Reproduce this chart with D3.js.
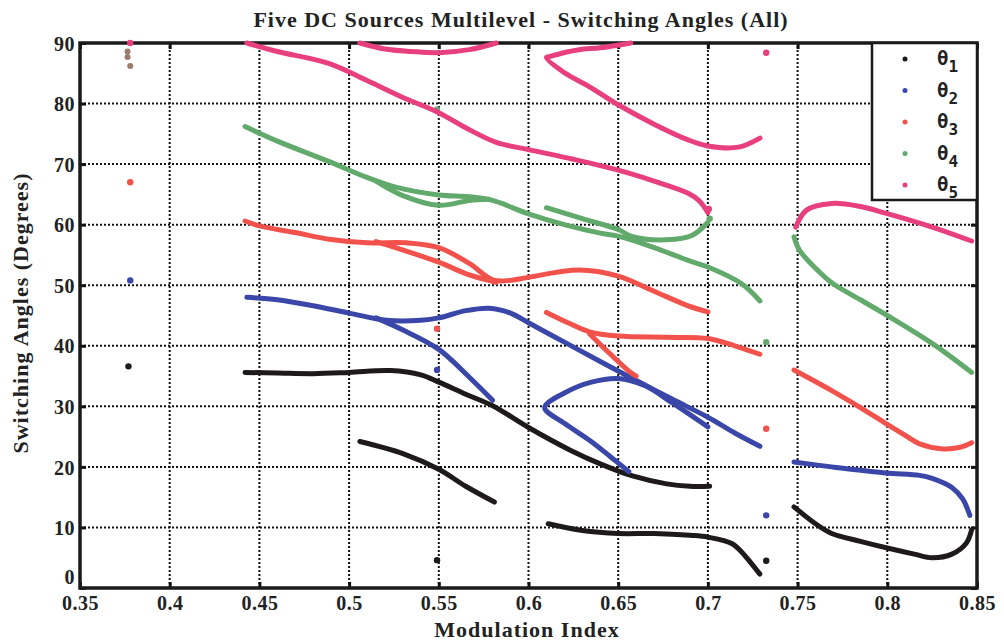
<!DOCTYPE html>
<html>
<head>
<meta charset="utf-8">
<script src="https://cdn.jsdelivr.net/npm/d3@7"></script>
<style>
  body { margin: 0; background: #fff; }
  svg { display: block; }
  .tick-lbl { font-family: "Liberation Serif", "DejaVu Serif", serif; font-weight: bold; font-size: 20px; letter-spacing: 0.5px; fill: #222; }
  .ttl { font-family: "Liberation Serif", "DejaVu Serif", serif; font-weight: bold; font-size: 22px; letter-spacing: 1px; fill: #222; }
</style>
</head>
<body>
<div id="chart"></div>
<script>
// modulation index ticks and angle ticks
var xTicks = [0.35, 0.4, 0.45, 0.5, 0.55, 0.6, 0.65, 0.7, 0.75, 0.8, 0.85];
var yTicks = [0, 10, 20, 30, 40, 50, 60, 70, 80, 90];
var seriesNames = ['1', '2', '3', '4', '5'];

// each angle: list of solution branches [modIndex, degrees]
var theta1Curves = [
  [[0.442,35.6],[0.46,35.5],[0.48,35.4],[0.50,35.6],[0.523,35.9],[0.54,35.2],[0.55,34.0],[0.565,32.0],[0.58,30.1],[0.60,26.5],[0.623,22.8],[0.64,20.5],[0.658,18.5],[0.677,17.2],[0.69,16.8],[0.701,16.8]],
  [[0.506,24.2],[0.53,22.2],[0.55,19.6],[0.565,16.8],[0.581,14.2]],
  [[0.611,10.6],[0.63,9.5],[0.65,9.0],[0.67,9.0],[0.69,8.7],[0.70,8.4],[0.7136,7.3],[0.721,5.2],[0.726,3.4],[0.729,2.3]],
  [[0.748,13.4],[0.76,10.6],[0.769,9.0],[0.785,7.7],[0.80,6.6],[0.815,5.6],[0.825,5.0],[0.836,5.6],[0.844,7.4],[0.847,9.6]]
];
var theta1Dots = [[0.377,36.6],[0.549,4.6],[0.7325,4.5]];

var theta2Curves = [
  [[0.443,48.0],[0.46,47.6],[0.48,46.6],[0.50,45.4],[0.521,44.2],[0.54,44.2],[0.55,44.6],[0.565,45.8],[0.578,46.2],[0.59,45.4],[0.60,43.8],[0.62,40.6],[0.64,37.4],[0.658,34.6],[0.68,31.2],[0.70,28.2],[0.715,25.6],[0.729,23.4]],
  [[0.515,44.6],[0.53,42.6],[0.55,39.4],[0.567,34.8],[0.58,31.0]],
  [[0.70,26.6],[0.68,30.6],[0.665,33.4],[0.65,34.6],[0.635,34.0],[0.62,32.2],[0.609,29.8],[0.62,27.2],[0.634,24.4],[0.646,21.6],[0.656,19.2]],
  [[0.748,20.8],[0.769,20.0],[0.799,19.0],[0.818,18.6],[0.825,18.1],[0.836,16.6],[0.842,14.7],[0.846,12.0]]
];
var theta2Dots = [[0.378,50.8],[0.549,36.0],[0.7325,12.0]];

var theta3Curves = [
  [[0.442,60.6],[0.45,59.8],[0.47,58.7],[0.489,57.6],[0.51,57.0],[0.532,57.0],[0.55,56.2],[0.567,53.6],[0.58,50.9],[0.59,50.8],[0.60,51.3],[0.628,52.5],[0.65,51.5],[0.67,49.0],[0.689,46.6],[0.70,45.6]],
  [[0.515,57.2],[0.526,56.2],[0.55,53.8],[0.567,51.7],[0.582,50.5]],
  [[0.61,45.5],[0.622,43.8],[0.634,42.3],[0.65,41.6],[0.677,41.4],[0.70,41.2],[0.715,40.0],[0.729,38.6]],
  [[0.634,42.0],[0.645,38.8],[0.656,35.8],[0.66,35.0]],
  [[0.748,36.0],[0.769,32.6],[0.785,29.8],[0.799,27.2],[0.81,25.2],[0.818,23.8],[0.83,23.0],[0.84,23.2],[0.847,24.0]]
];
var theta3Dots = [[0.378,67.0],[0.549,42.8],[0.7325,26.3]];

var theta4Curves = [
  [[0.442,76.2],[0.46,73.8],[0.489,70.4],[0.51,67.8],[0.526,66.2],[0.55,64.9],[0.567,64.6],[0.58,64.0],[0.60,61.8],[0.62,60.0],[0.64,58.6],[0.65,58.1],[0.67,56.2],[0.689,54.1],[0.70,53.0],[0.719,50.2],[0.729,47.4]],
  [[0.515,67.2],[0.53,64.8],[0.55,63.2],[0.567,64.0],[0.578,64.2]],
  [[0.61,62.8],[0.63,61.0],[0.65,59.2],[0.658,58.0],[0.677,57.5],[0.691,58.2],[0.70,60.4]],
  [[0.748,58.0],[0.751,55.8],[0.76,52.8],[0.769,50.4],[0.785,47.6],[0.80,45.0],[0.825,40.4],[0.847,35.6]]
];
var theta4Dots = [[0.549,79.0],[0.7325,40.6],[0.701,61.0]];

var theta5Curves = [
  [[0.443,90],[0.46,88.6],[0.489,86.6],[0.51,83.8],[0.53,81.0],[0.55,78.5],[0.565,76.0],[0.582,73.6],[0.60,72.4],[0.625,70.8],[0.65,69.0],[0.67,67.2],[0.689,65.2],[0.695,64.0],[0.70,62.0]],
  [[0.506,90],[0.52,89.0],[0.535,88.6],[0.55,88.4],[0.567,88.9],[0.582,90]],
  [[0.657,90],[0.64,89.2],[0.628,88.9],[0.612,87.8],[0.61,87.6],[0.619,85.3],[0.635,82.6],[0.65,79.8],[0.67,76.6],[0.689,74.0],[0.70,73.0],[0.717,72.8],[0.729,74.3]],
  [[0.749,59.6],[0.755,62.4],[0.769,63.5],[0.785,63.0],[0.799,61.9],[0.825,59.6],[0.847,57.3]]
];
var theta5Dots = [[0.378,90],[0.7325,88.4],[0.7005,62.6]];

// stray points near m=0.377 plotted in a brownish colour
var strayDots = [[0.3765,88.6],[0.3765,87.7],[0.378,86.2]];

var colors = ['#1f1a1a', '#3a47a8', '#f2524c', '#62a96c', '#e8407f'];
var allCurves = [theta1Curves, theta2Curves, theta3Curves, theta4Curves, theta5Curves];
var allDots = [theta1Dots, theta2Dots, theta3Dots, theta4Dots, theta5Dots];

var width = 1004, height = 643;
var margin = { left: 80, right: 27, top: 43, bottom: 55 };

var svg = d3.select('#chart').append('svg')
  .attr('width', width)
  .attr('height', height);

var x = d3.scaleLinear().domain([0.35, 0.85]).range([margin.left, width - margin.right]);
var y = d3.scaleLinear().domain([0, 90]).range([height - margin.bottom, margin.top]);

// dotted grid
var grid = svg.append('g');
grid.selectAll('.gx').data(xTicks.slice(1, -1)).enter().append('line')
  .attr('x1', function(d) { return x(d); }).attr('x2', function(d) { return x(d); })
  .attr('y1', y(0)).attr('y2', y(90))
  .attr('stroke', '#111').attr('stroke-width', 2).attr('stroke-dasharray', '2,2');
grid.selectAll('.gy').data(yTicks.slice(1, -1)).enter().append('line')
  .attr('y1', function(d) { return y(d); }).attr('y2', function(d) { return y(d); })
  .attr('x1', x(0.35)).attr('x2', x(0.85))
  .attr('stroke', '#111').attr('stroke-width', 2).attr('stroke-dasharray', '2,2');

// axes with inward ticks
var xAxis = svg.append('g')
  .attr('transform', 'translate(0,' + y(0) + ')')
  .call(d3.axisBottom(x).tickValues(xTicks).tickSize(-6).tickPadding(8).tickFormat(function(d) { return d3.format('')(+d.toFixed(2)); }));
var xAxisTop = svg.append('g')
  .attr('transform', 'translate(0,' + y(90) + ')')
  .call(d3.axisTop(x).tickValues(xTicks).tickSize(-6).tickFormat(''));
var yAxis = svg.append('g')
  .attr('transform', 'translate(' + x(0.35) + ',0)')
  .call(d3.axisLeft(y).tickValues(yTicks).tickSize(-6).tickPadding(5));
var yAxisRight = svg.append('g')
  .attr('transform', 'translate(' + x(0.85) + ',0)')
  .call(d3.axisRight(y).tickValues(yTicks).tickSize(-6).tickFormat(''));

[xAxis, xAxisTop, yAxis, yAxisRight].forEach(function(g) {
  g.select('.domain').remove();
  g.selectAll('.tick line').attr('stroke', '#111').attr('stroke-width', 3);
  g.selectAll('.tick text').attr('class', 'tick-lbl').attr('fill', '#222');
});
yAxis.selectAll('.tick text').attr('dy', function(d) { return d === 0 ? '-0.22em' : '0.36em'; });

// frame
svg.append('rect')
  .attr('x', x(0.35)).attr('y', y(90))
  .attr('width', x(0.85) - x(0.35)).attr('height', y(0) - y(90))
  .attr('fill', 'none').attr('stroke', '#1a1a1a').attr('stroke-width', 3.5);

var plot = svg.append('g');
var line = d3.line()
  .x(function(d) { return x(d[0]); })
  .y(function(d) { return y(d[1]); })
  .curve(d3.curveCatmullRom.alpha(0.5));

allCurves.forEach(function(curves, i) {
  plot.selectAll('.c' + i).data(curves).enter().append('path')
    .attr('d', line)
    .attr('fill', 'none')
    .attr('stroke', colors[i])
    .attr('stroke-width', 5)
    .attr('stroke-linecap', 'round')
    .attr('stroke-linejoin', 'round');
  plot.selectAll('.d' + i).data(allDots[i]).enter().append('circle')
    .attr('cx', function(d) { return x(d[0]); })
    .attr('cy', function(d) { return y(d[1]); })
    .attr('r', 3.2)
    .attr('fill', colors[i]);
});
plot.selectAll('.stray').data(strayDots).enter().append('circle')
  .attr('cx', function(d) { return x(d[0]); })
  .attr('cy', function(d) { return y(d[1]); })
  .attr('r', 3)
  .attr('fill', '#9a7b6d');

// titles
svg.append('text')
  .attr('class', 'ttl')
  .attr('x', 521).attr('y', 27)
  .attr('text-anchor', 'middle')
  .text('Five DC Sources Multilevel - Switching Angles (All)');

svg.append('text')
  .attr('class', 'ttl')
  .attr('x', 527).attr('y', 637)
  .attr('text-anchor', 'middle')
  .text('Modulation Index');

svg.append('text')
  .attr('class', 'ttl')
  .attr('transform', 'translate(28,' + 313 + ') rotate(-90)')
  .attr('text-anchor', 'middle')
  .text('Switching Angles (Degrees)');

// legend
var legend = svg.append('g');
legend.append('rect')
  .attr('x', 872).attr('y', y(90))
  .attr('width', x(0.85) - 872).attr('height', 157)
  .attr('fill', '#fff').attr('stroke', '#1a1a1a').attr('stroke-width', 2.5);
var rows = legend.selectAll('.row').data(seriesNames).enter().append('g')
  .attr('transform', function(d, i) { return 'translate(0,' + (59 + i * 31.5) + ')'; });
rows.append('circle')
  .attr('cx', 905).attr('cy', 0).attr('r', 2.5)
  .attr('fill', function(d, i) { return colors[i]; });
var lt = rows.append('text')
  .attr('x', 937).attr('y', 6)
  .style('font-family', '"DejaVu Sans Mono", monospace')
  .style('font-weight', 'bold')
  .style('font-size', '19px')
  .attr('fill', '#222');
lt.append('tspan').text('θ');
lt.append('tspan').attr('dy', 7).style('font-size', '16px').text(function(d) { return d; });
</script>
</body>
</html>
